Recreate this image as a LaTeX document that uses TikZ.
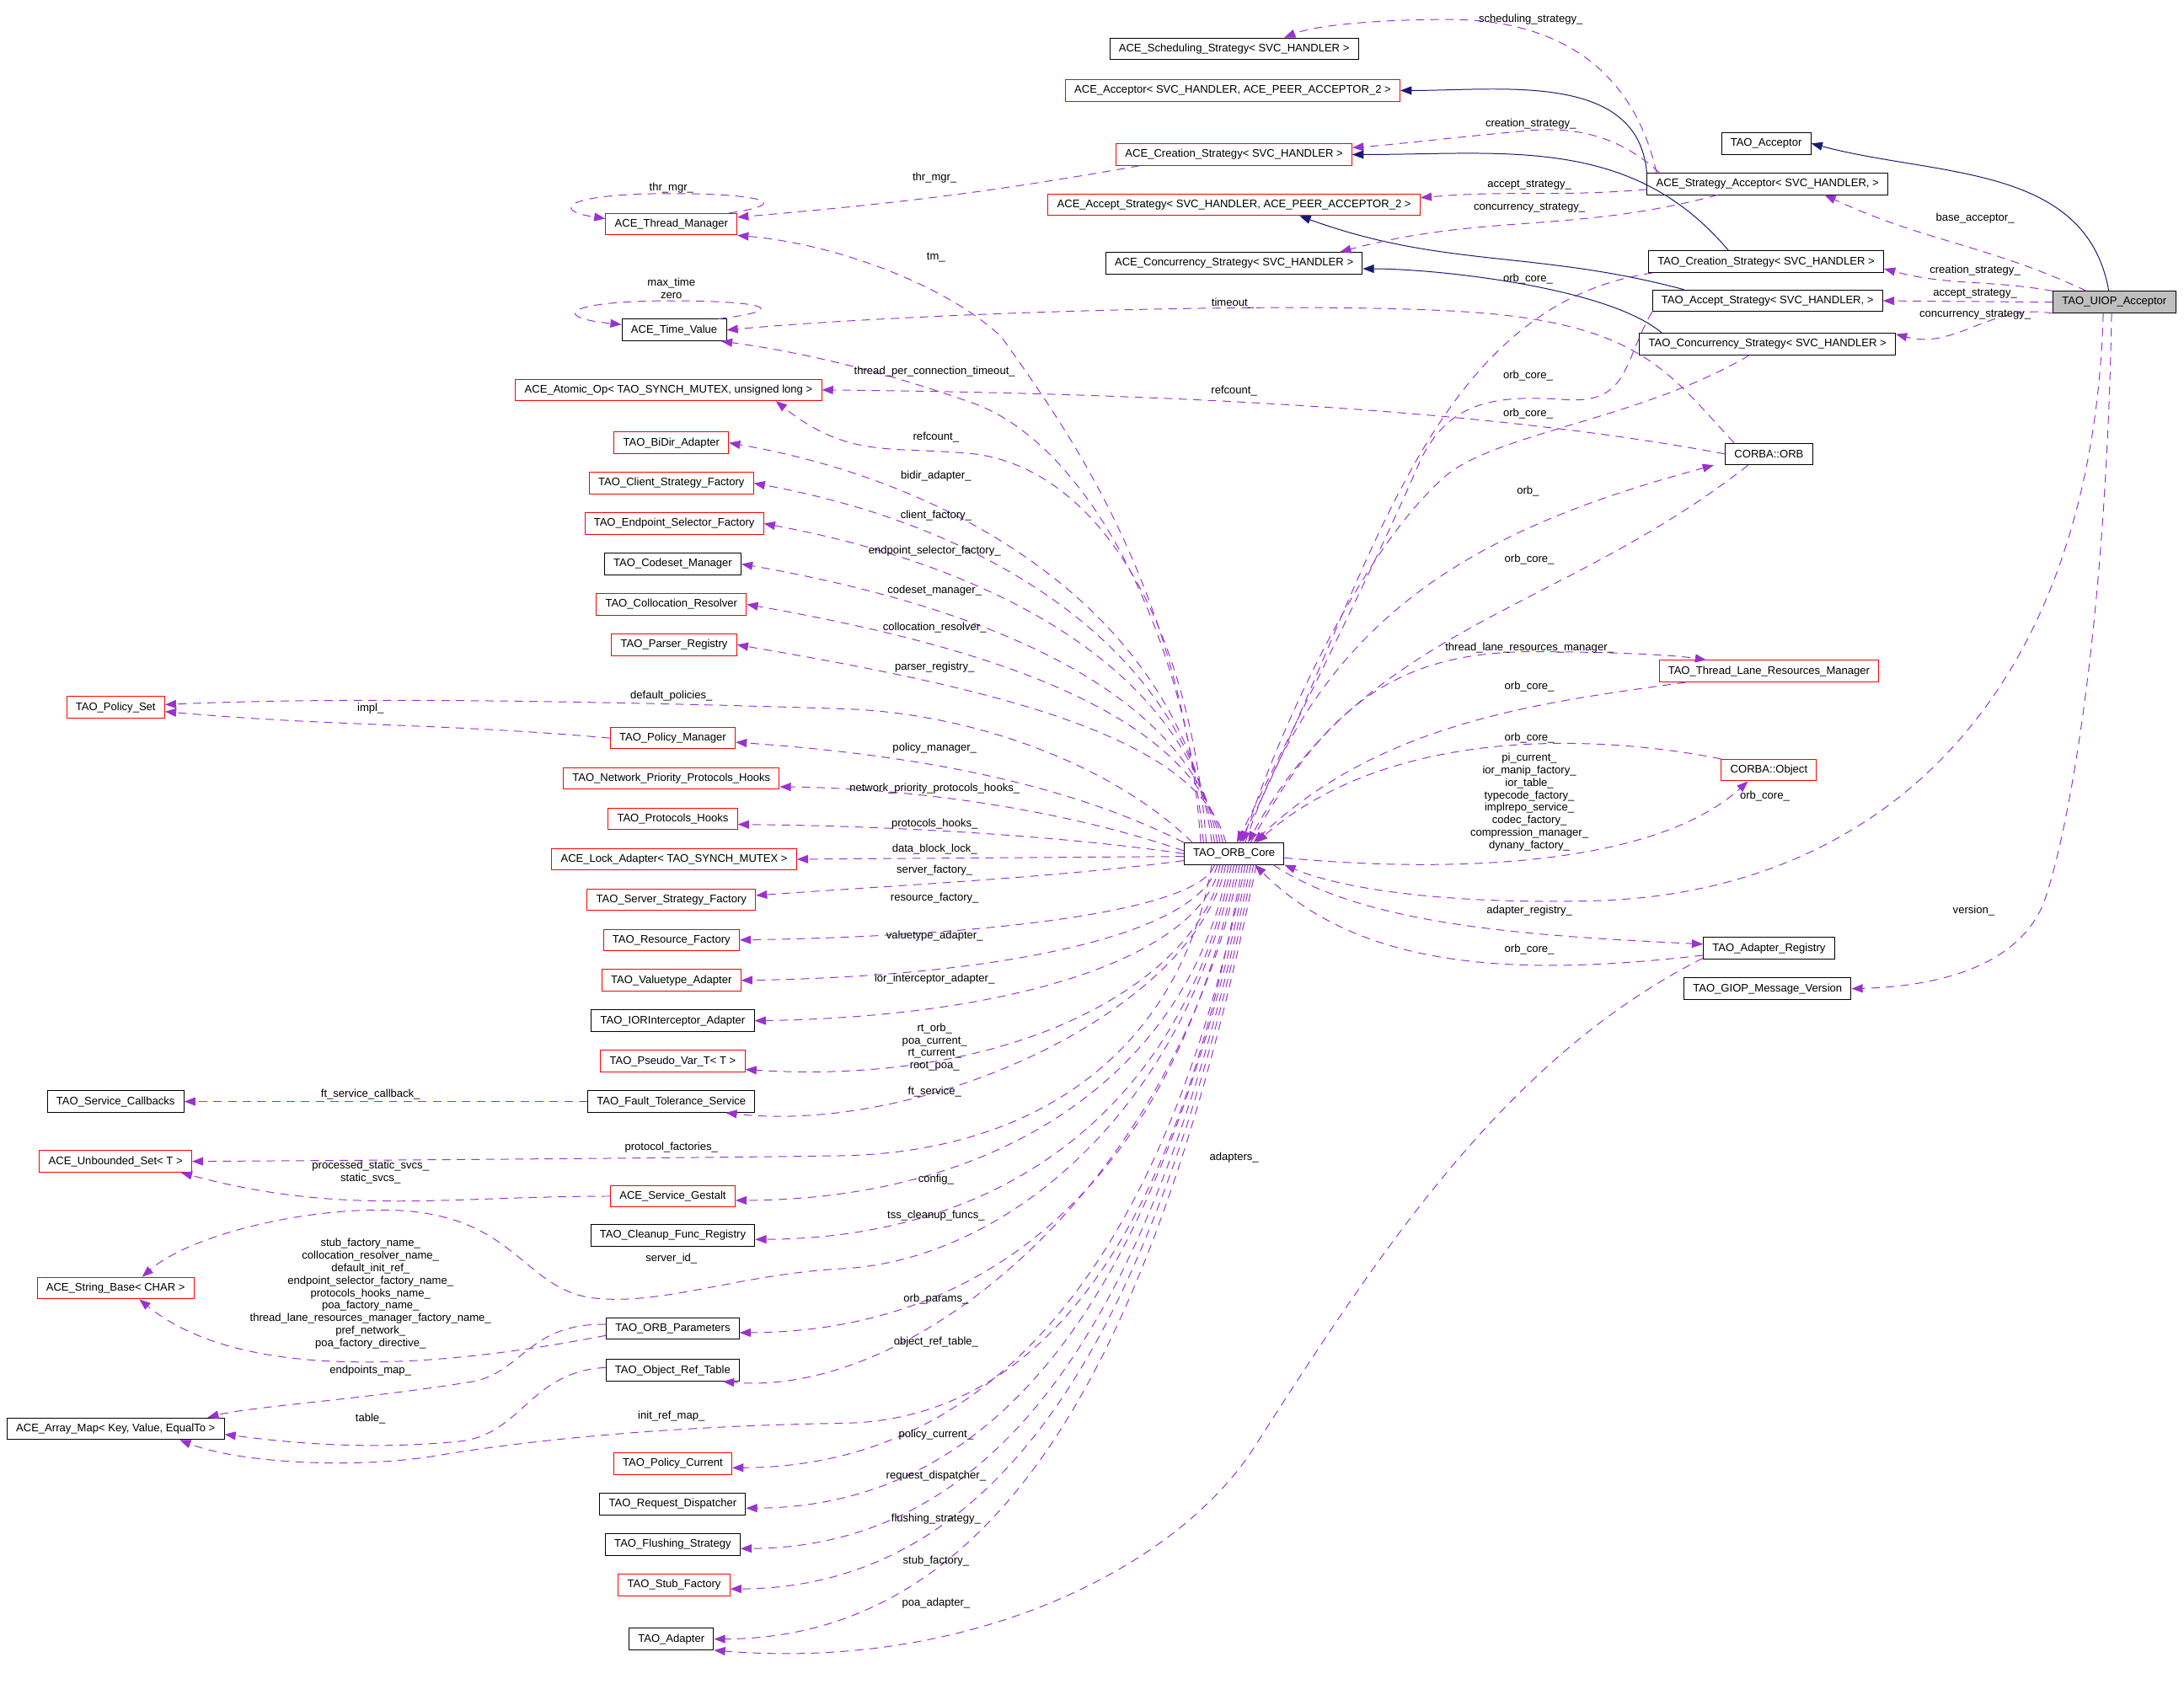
\documentclass[tikz,border=0pt]{standalone}
\usepackage{fontspec}
\setmainfont{Liberation Sans}
\usetikzlibrary{arrows.meta}

\definecolor{usecol}{HTML}{9A32CD}
\definecolor{inhcol}{HTML}{191970}
\definecolor{maincol}{HTML}{BFBFBF}

\begin{document}
\begin{tikzpicture}[x=1pt,y=-1pt,>={Triangle[length=8pt,width=6pt]},
	font=\fontsize{7.9}{9}\selectfont,
	cls/.style={draw=black,line width=0.6pt,inner xsep=6.5pt,inner ysep=0pt,minimum height=15.5pt},
	undoc/.style={cls,draw=red},
	focus/.style={cls,fill=maincol},
	usage/.style={draw=usecol,line width=0.6pt,dash pattern=on 6pt off 4.5pt},
	inh/.style={draw=inhcol,line width=0.6pt},
	lbl/.style={inner sep=0pt,align=center}]

	\useasboundingbox (0,0) rectangle (1568,1209);

	% acceptor side
	\node[focus] (uiop) at (1518,217) {TAO\_UIOP\_Acceptor};
	\node[cls] (tacc) at (1268,103) {TAO\_Acceptor};
	\node[cls] (sacc) at (1269,132) {ACE\_Strategy\_Acceptor< SVC\_HANDLER, >};
	\node[cls] (tcre) at (1268,188) {TAO\_Creation\_Strategy< SVC\_HANDLER >};
	\node[cls] (tacs) at (1269,216) {TAO\_Accept\_Strategy< SVC\_HANDLER, >};
	\node[cls] (tcon) at (1269,247) {TAO\_Concurrency\_Strategy< SVC\_HANDLER >};

	% ACE strategies
	\node[cls] (asch) at (886,35) {ACE\_Scheduling\_Strategy< SVC\_HANDLER >};
	\node[undoc] (aacc) at (885,65) {ACE\_Acceptor< SVC\_HANDLER, ACE\_PEER\_ACCEPTOR\_2 >};
	\node[undoc] (acre) at (886,111) {ACE\_Creation\_Strategy< SVC\_HANDLER >};
	\node[undoc] (aacs) at (886,147) {ACE\_Accept\_Strategy< SVC\_HANDLER, ACE\_PEER\_ACCEPTOR\_2 >};
	\node[cls] (acon) at (886,189) {ACE\_Concurrency\_Strategy< SVC\_HANDLER >};

	% left column
	\node[undoc] (thr) at (482,161) {ACE\_Thread\_Manager};
	\node[cls] (tv) at (484,237) {ACE\_Time\_Value};
	\node[undoc] (atom) at (480,280) {ACE\_Atomic\_Op< TAO\_SYNCH\_MUTEX, unsigned long >};
	\node[undoc] (bidir) at (482,318) {TAO\_BiDir\_Adapter};
	\node[undoc] (csf) at (482,347) {TAO\_Client\_Strategy\_Factory};
	\node[undoc] (esf) at (484,376) {TAO\_Endpoint\_Selector\_Factory};
	\node[cls] (csm) at (483,405) {TAO\_Codeset\_Manager};
	\node[undoc] (cres) at (482,434) {TAO\_Collocation\_Resolver};
	\node[undoc] (preg) at (484,463) {TAO\_Parser\_Registry};
	\node[undoc] (pset) at (83,508) {TAO\_Policy\_Set};
	\node[undoc] (pman) at (483,530) {TAO\_Policy\_Manager};
	\node[undoc] (nph) at (482,559) {TAO\_Network\_Priority\_Protocols\_Hooks};
	\node[undoc] (phk) at (483,588) {TAO\_Protocols\_Hooks};
	\node[undoc] (lock) at (484,617) {ACE\_Lock\_Adapter< TAO\_SYNCH\_MUTEX >};
	\node[undoc] (ssf) at (482,646) {TAO\_Server\_Strategy\_Factory};
	\node[undoc] (rf) at (482,675) {TAO\_Resource\_Factory};
	\node[undoc] (vta) at (482,704) {TAO\_Valuetype\_Adapter};
	\node[cls] (iora) at (483,733) {TAO\_IORInterceptor\_Adapter};
	\node[undoc] (pvar) at (483,762) {TAO\_Pseudo\_Var\_T< T >};
	\node[cls] (fts) at (482,791) {TAO\_Fault\_Tolerance\_Service};
	\node[cls] (scb) at (83,791) {TAO\_Service\_Callbacks};
	\node[undoc] (uset) at (83,834) {ACE\_Unbounded\_Set< T >};
	\node[undoc] (sgest) at (483,859) {ACE\_Service\_Gestalt};
	\node[cls] (cfr) at (483,887) {TAO\_Cleanup\_Func\_Registry};
	\node[undoc] (sbase) at (83,925) {ACE\_String\_Base< CHAR >};
	\node[cls] (opar) at (483,954) {TAO\_ORB\_Parameters};
	\node[cls] (ort) at (483,984) {TAO\_Object\_Ref\_Table};
	\node[cls] (amap) at (83,1026) {ACE\_Array\_Map< Key, Value, EqualTo >};
	\node[undoc] (pcur) at (483,1051) {TAO\_Policy\_Current};
	\node[cls] (rdis) at (483,1080) {TAO\_Request\_Dispatcher};
	\node[cls] (fstr) at (483,1109) {TAO\_Flushing\_Strategy};
	\node[undoc] (stf) at (484,1138) {TAO\_Stub\_Factory};
	\node[cls] (adp) at (482,1177) {TAO\_Adapter};

	% middle
	\node[cls] (core) at (886,613) {TAO\_ORB\_Core};
	\node[cls] (orb) at (1270,326) {CORBA::ORB};
	\node[undoc] (tlrm) at (1270,482) {TAO\_Thread\_Lane\_Resources\_Manager};
	\node[undoc] (obj) at (1270,553) {CORBA::Object};
	\node[cls] (areg) at (1270,681) {TAO\_Adapter\_Registry};
	\node[cls] (giop) at (1269,710) {TAO\_GIOP\_Message\_Version};

	% inheritance
	\draw[inh,->] ([xshift=-4pt]uiop.north) to[out=100,in=-15] (tacc.east);
	\draw[inh,->] (sacc.north west) to[out=95,in=0] (aacc.east);
	\draw[inh,->] ([xshift=-27pt]tcre.north) to[out=130,in=0] (acre.east);
	\draw[inh,->] ([xshift=-60pt]tacs.north) to[out=165,in=-20] ([xshift=47pt]aacs.south);
	\draw[inh,->] ([xshift=-76pt]tcon.north) to[out=140,in=0,looseness=0.6] ([yshift=-4pt]acon.east);

	% members of the acceptor
	\draw[usage,->] ([xshift=-20pt]uiop.north) to[out=155,in=-25] ([xshift=41pt]sacc.south);
	\draw[usage,->] (uiop.north west) to[out=170,in=-15] ([yshift=-5pt]tcre.east);
	\draw[usage,->] (uiop.west) -- (tacs.east);
	\draw[usage,->] (uiop.south west) to[out=170,in=-15] ([yshift=7pt]tcon.east);
	\draw[usage,->] ([xshift=-8pt]uiop.south) .. controls (1502,500) and (1350,645) .. (1136,647)
		.. controls (1030,649) and (960,637) .. (core.south east);
	\draw[usage,->] ([xshift=-2pt]uiop.south) .. controls (1512,450) and (1485,600) .. (1467,649)
		.. controls (1450,690) and (1400,708) .. (giop.east);

	% members of the strategy acceptor
	\draw[usage,->] ([xshift=7pt]sacc.north west) .. controls (1175,60) and (1130,14) .. (1040,14)
		.. controls (990,14) and (945,18) .. ([xshift=36pt]asch.north);
	\draw[usage,->] ([xshift=9pt]sacc.north west) .. controls (1165,100) and (1135,90) .. (1095,94)
		.. controls (1050,98) and (1000,104) .. ([yshift=5pt]acre.east);
	\draw[usage,->] ([yshift=-4pt]sacc.west) to[out=185,in=5] ([yshift=5pt]aacs.east);
	\draw[usage,->] ([xshift=-36pt]sacc.south) to[out=195,in=15] ([xshift=76pt]acon.north);

	% thread manager and time value
	\draw[usage,->] ([xshift=17pt]acre.south west) to[out=190,in=5] ([yshift=5pt]thr.east);
	\draw[usage,->] ([xshift=-6pt]thr.north east) .. controls (572,146) and (545,139) .. (482,139)
		.. controls (405,139) and (395,151) .. ([yshift=4pt]thr.west);
	\draw[usage,->] ([xshift=-6pt]tv.north east) .. controls (572,222) and (545,216) .. (482,216)
		.. controls (405,216) and (395,228) .. ([yshift=4pt]tv.west);

	% CORBA::ORB
	\draw[usage,->] ([xshift=-25pt]orb.north) .. controls (1200,270) and (1180,235) .. (1067,225)
		.. controls (950,215) and (650,225) .. (tv.east);
	\draw[usage,->] (orb.west) .. controls (1100,300) and (900,283) .. (atom.east);
	\draw[usage,->] ([xshift=-15pt]orb.south) .. controls (1120,440) and (980,450) .. ([xshift=10pt]core.north);
	\draw[usage,->] ([xshift=8pt]core.north) .. controls (950,440) and (1060,380) .. ([xshift=-8pt]orb.south west);

	% strategies back to the core
	\draw[usage,->] ([xshift=3pt]tcre.south west) .. controls (1020,220) and (980,430) .. ([xshift=4pt]core.north);
	\draw[usage,->] (tacs.south west) .. controls (1165,260) and (1170,290) .. (1124,287)
		.. controls (1070,283) and (1040,290) .. (1020,330)
		.. controls (990,400) and (930,520) .. ([xshift=2pt]core.north);
	\draw[usage,->] ([xshift=-13pt]tcon.south) .. controls (1180,300) and (1080,310) .. (1040,340)
		.. controls (980,390) and (920,520) .. ([xshift=6pt]core.north);

	% thread lanes and CORBA::Object
	\draw[usage,->] ([xshift=12pt]core.north) .. controls (950,510) and (1000,468) .. (1100,468)
		.. controls (1150,468) and (1200,470) .. ([xshift=-45pt]tlrm.north);
	\draw[usage,->] ([xshift=-60pt]tlrm.south) .. controls (1100,505) and (990,520) .. ([xshift=14pt]core.north);
	\draw[usage,->] (obj.north west) .. controls (1150,528) and (1000,520) .. ([xshift=16pt]core.north);
	\draw[usage,->] ([yshift=-3pt]core.east) .. controls (1050,628) and (1190,620) .. ([xshift=-15pt]obj.south);

	% adapter registry
	\draw[usage,->] ([xshift=-8pt]core.south east) .. controls (980,665) and (1100,672) .. ([yshift=3pt]areg.west);
	\draw[usage,->] ([yshift=-5pt]areg.west) .. controls (1100,700) and (980,700) .. ([xshift=15pt]core.south);
	\draw[usage,->] ([yshift=-7pt]areg.west) .. controls (1080,760) and (990,900) .. (900,1040)
		.. controls (846,1124) and (700,1200) .. (adp.south east);

	% core members above
	\draw[usage,->] ([xshift=-24pt]core.north) .. controls (850,420) and (760,300) .. (719,242)
		.. controls (680,205) and (600,175) .. (thr.south east);
	\draw[usage,->] ([xshift=-22pt]core.north) .. controls (850,450) and (780,320) .. (700,290)
		.. controls (630,265) and (570,252) .. ([xshift=-4pt]tv.south east);
	\draw[usage,->] ([xshift=-20pt]core.north) .. controls (855,450) and (790,338) .. (700,326)
		.. controls (640,320) and (610,330) .. ([xshift=77pt]atom.south);
	\draw[usage,->] ([xshift=-16pt]core.north) .. controls (850,447) and (696,348) .. (bidir.east);
	\draw[usage,->] ([xshift=-14pt]core.north) .. controls (850,463) and (706,377) .. (csf.east);
	\draw[usage,->] ([xshift=-12pt]core.north) .. controls (852,479) and (711,406) .. (esf.east);
	\draw[usage,->] ([xshift=-10pt]core.north) .. controls (854,495) and (704,435) .. (csm.east);
	\draw[usage,->] ([xshift=-8pt]core.north) .. controls (856,511) and (707,464) .. (cres.east);
	\draw[usage,->] ([xshift=-6pt]core.north) .. controls (860,527) and (705,493) .. (preg.east);
	\draw[usage,->] ([xshift=-30pt]core.north) .. controls (800,550) and (700,512) .. (605,509)
		.. controls (450,504) and (250,500) .. ([yshift=2pt]pset.east);
	\draw[usage,->] (pman.west) to[out=175,in=-5] ([yshift=-3pt]pset.east);
	\draw[usage,->] (core.north west) .. controls (790,575) and (700,545) .. ([yshift=-3pt]pman.east);
	\draw[usage,->] ([yshift=2pt]core.west) .. controls (760,580) and (650,566) .. ([yshift=-6pt]nph.east);
	\draw[usage,->] (core.west) .. controls (760,600) and (640,593) .. ([yshift=-4pt]phk.east);
	\draw[usage,->] ([yshift=-2pt]core.west) -- (lock.east);
	\draw[usage,->] ([yshift=-5pt]core.west) .. controls (760,630) and (640,636) .. ([yshift=3pt]ssf.east);

	% core members below
	\draw[usage,->] ([xshift=-14pt]core.south) .. controls (862,653) and (719,672) .. (rf.east);
	\draw[usage,->] ([xshift=-12pt]core.south) .. controls (862,671) and (720,701) .. (vta.east);
	\draw[usage,->] ([xshift=-10pt]core.south) .. controls (862,688) and (726,730) .. (iora.east);
	\draw[usage,->] ([xshift=-8pt]core.south) .. controls (860,708) and (724,780) .. ([yshift=-6pt]pvar.east);
	\draw[usage,->] ([xshift=-6pt]core.south) .. controls (858,728) and (660,815) .. ([xshift=39pt]fts.south);
	\draw[usage,->] (fts.west) -- (scb.east);
	\draw[usage,->] ([xshift=-16pt]core.south) .. controls (850,740) and (760,828) .. (600,830)
		.. controls (450,832) and (280,833) .. (uset.east);
	\draw[usage,->] (sgest.west) to[out=180,in=-15] ([xshift=-8pt]uset.south east);
	\draw[usage,->] ([xshift=-4pt]core.south) .. controls (855,766) and (724,861) .. ([yshift=-3pt]sgest.east);
	\draw[usage,->] ([xshift=-2pt]core.south) .. controls (852,785) and (731,889) .. ([yshift=-3pt]cfr.east);
	\draw[usage,->] (core.south) .. controls (850,800) and (720,905) .. (605,911)
		.. controls (530,915) and (475,938) .. (425,932)
		.. controls (375,925) and (370,872) .. (282,869)
		.. controls (215,867) and (135,888) .. ([xshift=19pt]sbase.north);
	\draw[usage,->] ([xshift=2pt]core.south) .. controls (848,826) and (727,956) .. ([yshift=-3pt]opar.east);
	\draw[usage,->] ([yshift=-5pt]opar.west) .. controls (300,985) and (170,990) .. ([xshift=17pt]sbase.south);
	\draw[usage,->] ([yshift=3pt]opar.west) .. controls (380,950) and (375,985) .. (340,992)
		.. controls (260,1005) and (180,1010) .. ([xshift=66pt]amap.north);
	\draw[usage,->] ([xshift=4pt]core.south) .. controls (846,846) and (660,1004) .. ([xshift=36pt]ort.south);
	\draw[usage,->] ([yshift=2pt]ort.west) .. controls (380,985) and (375,1030) .. (330,1035)
		.. controls (260,1042) and (200,1035) .. ([yshift=-4pt]amap.east);
	\draw[usage,->] ([xshift=6pt]core.south) .. controls (845,900) and (740,1020) .. (605,1022)
		.. controls (480,1024) and (380,1034) .. (309,1046)
		.. controls (250,1055) and (170,1050) .. ([xshift=46pt]amap.south);
	\draw[usage,->] ([xshift=8pt]core.south) .. controls (842,881) and (728,1053) .. ([yshift=-3pt]pcur.east);
	\draw[usage,->] ([xshift=10pt]core.south) .. controls (840,898) and (734,1082) .. ([yshift=-3pt]rdis.east);
	\draw[usage,->] ([xshift=12pt]core.south) .. controls (838,916) and (733,1111) .. ([yshift=-3pt]fstr.east);
	\draw[usage,->] ([xshift=14pt]core.south) .. controls (836,933) and (731,1140) .. ([yshift=-3pt]stf.east);
	\draw[usage,->] ([xshift=16pt]core.south) .. controls (834,955) and (727,1176) .. (adp.east);

	% labels, right part
	\node[lbl] (lsch) at (1099,14) {scheduling\_strategy\_};
	\node[lbl] (lcre) at (1099,89) {creation\_strategy\_};
	\node[lbl] (lacc) at (1098,133) {accept\_strategy\_};
	\node[lbl] (lcon) at (1098,149) {concurrency\_strategy\_};
	\node[lbl] (lbase) at (1418,157) {base\_acceptor\_};
	\node[lbl] (lucre) at (1418,194) {creation\_strategy\_};
	\node[lbl] (luacc) at (1418,211) {accept\_strategy\_};
	\node[lbl] (lucon) at (1418,226) {concurrency\_strategy\_};
	\node[lbl] (ltout) at (885,218) {timeout\_};
	\node[lbl] (lrefo) at (886,281) {refcount\_};
	\node[lbl] (loc1) at (1097,200) {orb\_core\_};
	\node[lbl] (loc2) at (1097,270) {orb\_core\_};
	\node[lbl] (loc3) at (1097,297) {orb\_core\_};
	\node[lbl] (lorb) at (1097,353) {orb\_};
	\node[lbl] (loc4) at (1098,402) {orb\_core\_};
	\node[lbl] (ltlr) at (1098,465) {thread\_lane\_resources\_manager\_};
	\node[lbl] (loc5) at (1098,493) {orb\_core\_};
	\node[lbl] (loc6) at (1098,530) {orb\_core\_};
	\node[lbl] (lobj) at (1098,576) {pi\_current\_\\ior\_manip\_factory\_\\ior\_table\_\\typecode\_factory\_\\implrepo\_service\_\\codec\_factory\_\\compression\_manager\_\\dynany\_factory\_};
	\node[lbl] (loc7) at (1267,572) {orb\_core\_};
	\node[lbl] (lareg) at (1098,654) {adapter\_registry\_};
	\node[lbl] (loc8) at (1098,682) {orb\_core\_};
	\node[lbl] (lver) at (1417,654) {version\_};
	\node[lbl] (ladp) at (886,831) {adapters\_};

	% labels, left part
	\node[lbl] (lthr) at (671,128) {thr\_mgr\_};
	\node[lbl] (lthrs) at (482,135) {thr\_mgr\_};
	\node[lbl] (ltvs) at (482,207) {max\_time\\zero};
	\node[lbl] (ltm) at (672,185) {tm\_};
	\node[lbl] (ltpc) at (671,267) {thread\_per\_connection\_timeout\_};
	\node[lbl] (lrefc) at (672,314) {refcount\_};
	\node[lbl] (lbidir) at (672,342) {bidir\_adapter\_};
	\node[lbl] (lcsf) at (672,370) {client\_factory\_};
	\node[lbl] (lesf) at (671,396) {endpoint\_selector\_factory\_};
	\node[lbl] (lcsm) at (671,424) {codeset\_manager\_};
	\node[lbl] (lcres) at (671,451) {collocation\_resolver\_};
	\node[lbl] (lpreg) at (671,479) {parser\_registry\_};
	\node[lbl] (ldpol) at (482,500) {default\_policies\_};
	\node[lbl] (limpl) at (266,509) {impl\_};
	\node[lbl] (lpman) at (671,537) {policy\_manager\_};
	\node[lbl] (lnph) at (671,566) {network\_priority\_protocols\_hooks\_};
	\node[lbl] (lphk) at (671,592) {protocols\_hooks\_};
	\node[lbl] (llock) at (671,610) {data\_block\_lock\_};
	\node[lbl] (lssf) at (671,625) {server\_factory\_};
	\node[lbl] (lrf) at (671,645) {resource\_factory\_};
	\node[lbl] (lvta) at (671,672) {valuetype\_adapter\_};
	\node[lbl] (liora) at (671,703) {ior\_interceptor\_adapter\_};
	\node[lbl] (lpvar) at (671,752) {rt\_orb\_\\poa\_current\_\\rt\_current\_\\root\_poa\_};
	\node[lbl] (lfts) at (671,784) {ft\_service\_};
	\node[lbl] (lscb) at (266,786) {ft\_service\_callback\_};
	\node[lbl] (lpfac) at (482,824) {protocol\_factories\_};
	\node[lbl] (lsvcs) at (266,842) {processed\_static\_svcs\_\\static\_svcs\_};
	\node[lbl] (lconf) at (672,847) {config\_};
	\node[lbl] (ltss) at (672,873) {tss\_cleanup\_funcs\_};
	\node[lbl] (lsid) at (482,904) {server\_id\_};
	\node[lbl] (lnames) at (266,929) {stub\_factory\_name\_\\collocation\_resolver\_name\_\\default\_init\_ref\_\\endpoint\_selector\_factory\_name\_\\protocols\_hooks\_name\_\\poa\_factory\_name\_\\thread\_lane\_resources\_manager\_factory\_name\_\\pref\_network\_\\poa\_factory\_directive\_};
	\node[lbl] (lopar) at (672,933) {orb\_params\_};
	\node[lbl] (lort) at (672,964) {object\_ref\_table\_};
	\node[lbl] (lepm) at (266,984) {endpoints\_map\_};
	\node[lbl] (lirm) at (482,1017) {init\_ref\_map\_};
	\node[lbl] (ltab) at (266,1019) {table\_};
	\node[lbl] (lpcur) at (672,1030) {policy\_current\_};
	\node[lbl] (lrdis) at (672,1060) {request\_dispatcher\_};
	\node[lbl] (lfstr) at (672,1091) {flushing\_strategy\_};
	\node[lbl] (lstf) at (672,1121) {stub\_factory\_};
	\node[lbl] (lpoa) at (672,1151) {poa\_adapter\_};

\end{tikzpicture}
\end{document}
